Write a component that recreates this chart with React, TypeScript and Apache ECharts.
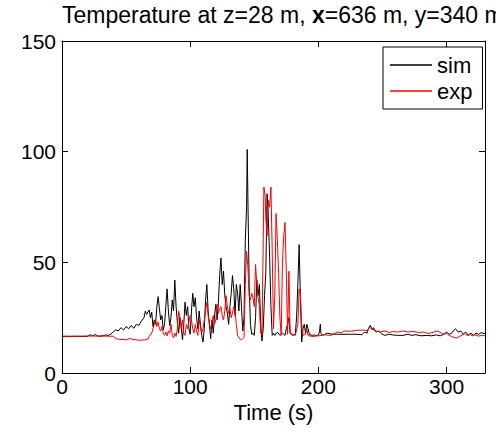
import React, { useEffect, useRef } from "react";
import * as echarts from "echarts";

const titleText = "Temperature at z=28 m, {b|x}=636 m, y=340 m";
const seriesNames = ["sim", "exp"];

const simTime = [
  0, 5, 10, 15, 20, 22, 24, 26, 28, 32, 34, 36, 38, 40, 42, 44, 46, 48, 50, 52, 54, 56, 58, 60,
  62, 64, 65, 66, 68, 69, 70, 71, 72, 73, 74, 75, 76, 77, 78, 79, 80, 81, 82, 83, 84, 85, 86, 87,
  88, 89, 90, 91, 92, 93, 94, 95, 96, 97, 98, 99, 100, 101, 102, 103, 104, 105, 106, 107, 108,
  109, 110, 111, 112, 113, 114, 115, 116, 117, 118, 119, 120, 121, 122, 123, 124, 125, 126, 127,
  128, 129, 130, 131, 132, 133, 134, 135, 136, 137, 138, 139, 140, 141, 142, 143, 144, 144.5, 145,
  146, 147, 148, 149, 150, 151, 152, 153, 154, 155, 156, 157, 158, 159, 160, 161, 162, 163, 164,
  165, 166, 168, 170, 172, 174, 175, 176, 177, 178, 180, 182, 183, 184, 185, 186, 187, 188, 189,
  190, 191, 192, 193, 195, 197, 199, 200, 201, 201.5, 202, 203, 205, 207, 210, 215, 220, 225, 230,
  234, 236, 238, 239, 240.5, 242, 243, 245, 247, 249, 252, 255, 258, 262, 266, 270, 273, 276, 280,
  285, 288, 292, 295, 298, 300, 302, 304, 306, 307, 309, 311, 313, 315, 317, 319, 321, 323, 325,
  327, 330,
];
const simTemp = [
  16.5, 16.4, 16.6, 16.5, 16.6, 17.3, 16.8, 17.4, 16.6, 16.8, 17.2, 17.0, 17.5, 18.6, 19.5, 19.0,
  20.5, 19.4, 21.0, 20.0, 21.5, 20.2, 22.0, 21.5, 23.5, 25.0, 28.0, 26.5, 28.5, 25.0, 27.5, 21.0,
  24.0, 22.0, 30.0, 34.5, 29.0, 24.0, 26.0, 19.5, 22.0, 30.0, 38.0, 28.0, 21.5, 25.0, 33.0, 28.0,
  42.0, 30.0, 23.0, 18.0, 25.0, 21.0, 15.0, 22.0, 32.0, 26.0, 30.0, 20.0, 17.5, 28.0, 36.0, 30.0,
  34.0, 25.0, 20.0, 28.0, 22.0, 17.0, 14.0, 20.0, 33.0, 40.0, 28.0, 22.0, 15.5, 24.0, 18.0, 26.0,
  31.0, 24.0, 32.0, 44.0, 52.0, 40.0, 46.0, 35.0, 30.0, 27.0, 22.0, 30.0, 36.0, 44.0, 38.0, 26.0,
  40.0, 36.0, 28.0, 40.0, 30.0, 19.0, 25.0, 60.0, 75.0, 101.0, 80.0, 40.0, 22.0, 17.5, 18.0, 17.0,
  25.0, 42.0, 35.0, 40.0, 22.0, 14.5, 20.0, 35.0, 45.0, 81.0, 70.0, 52.0, 30.0, 17.0, 18.0, 17.0,
  18.5, 17.0, 18.0, 17.0, 20.0, 22.0, 25.0, 18.0, 17.0, 17.5, 25.0, 40.0, 58.0, 34.0, 14.0, 20.0,
  22.0, 18.0, 22.0, 20.0, 17.5, 17.0, 17.2, 16.8, 17.0, 19.0, 22.0, 18.0, 17.0, 17.5, 18.0, 17.6,
  17.5, 17.5, 17.5, 17.5, 17.3, 18.5, 18.0, 20.0, 21.5, 19.5, 20.5, 18.5, 19.0, 17.8, 17.0, 17.5,
  17.2, 17.0, 17.0, 17.5, 17.0, 17.3, 16.8, 17.0, 16.8, 17.2, 16.8, 17.5, 18.5, 17.5, 18.0, 19.5,
  20.0, 18.5, 19.0, 17.5, 18.5, 17.0, 18.0, 17.0, 18.0, 17.5, 18.2, 17.8,
];

const expTime = [
  0, 10, 20, 30, 40, 42, 45, 50, 53, 55, 60, 65, 67, 68, 70, 71, 72, 73, 74, 75, 76, 77, 78, 79,
  80, 81, 82, 83, 84, 85, 86, 87, 88, 89, 90, 91, 92, 93, 94, 95, 96, 97, 98, 99, 100, 101, 102,
  103, 104, 105, 106, 107, 108, 109, 110, 111, 112, 113, 114, 115, 116, 117, 118, 119, 120, 121,
  122, 123, 124, 125, 126, 127, 128, 129, 130, 131, 132, 133, 134, 135, 136, 137, 138, 139, 140,
  141, 142, 143, 144, 145, 146, 147, 148, 149, 150, 151, 152, 153, 154, 155, 156, 157, 157.5,
  158.5, 159, 160, 161, 162, 163, 164, 165, 166, 167, 168, 169, 170, 171, 172, 173, 174, 175, 176,
  177, 178, 180, 182, 184, 185, 186, 187, 188, 190, 191, 192, 195, 200, 205, 210, 215, 218, 220,
  225, 230, 235, 238, 240, 242, 245, 248, 252, 255, 258, 262, 266, 270, 274, 278, 282, 286, 290,
  293, 296, 298, 300, 302, 304, 306, 308, 310, 312, 314, 316, 318, 320, 322, 325, 328, 330,
];
const expTemp = [
  16.7, 16.6, 16.7, 16.7, 16.6, 15.5, 15.2, 15.0, 15.6, 15.2, 14.8, 15.0, 15.3, 16.5, 18.0, 20.0,
  22.0, 24.0, 21.0, 23.0, 20.0, 19.0, 21.0, 18.0, 17.0, 18.5, 16.8, 19.0, 18.0, 22.0, 17.0, 16.0,
  18.0, 16.5, 20.0, 28.0, 25.0, 20.0, 24.0, 18.0, 17.0, 22.0, 20.0, 23.0, 26.0, 24.0, 20.0, 18.0,
  22.0, 19.0, 17.0, 24.0, 21.0, 18.0, 20.0, 24.0, 28.0, 32.0, 26.0, 22.0, 20.0, 23.0, 26.0, 22.0,
  24.0, 31.0, 27.0, 29.0, 30.0, 26.0, 24.0, 28.0, 35.0, 30.0, 27.0, 29.0, 25.0, 27.0, 30.0, 28.0,
  22.0, 17.0, 16.0, 15.2, 15.0, 15.5, 16.0, 40.0, 55.0, 48.0, 35.0, 33.0, 36.0, 34.0, 30.0, 49.0,
  40.0, 34.0, 30.0, 18.0, 17.0, 60.0, 84.0, 80.0, 70.0, 62.0, 78.0, 75.0, 84.0, 55.0, 20.0, 35.0,
  72.0, 60.0, 45.0, 25.0, 17.0, 50.0, 62.0, 68.0, 45.0, 17.5, 46.0, 18.0, 17.5, 17.0, 22.0, 38.0,
  35.0, 22.0, 17.0, 17.5, 20.0, 17.0, 16.5, 16.8, 17.2, 17.0, 18.5, 18.2, 19.0, 18.8, 19.3, 19.4,
  19.2, 20.5, 20.0, 19.0, 18.5, 19.0, 18.3, 18.7, 18.5, 19.0, 18.5, 18.8, 18.3, 18.5, 17.8, 18.5,
  19.0, 18.0, 17.5, 18.0, 17.0, 16.5, 16.0, 15.8, 16.5, 17.0, 18.0, 17.0, 17.5, 16.8, 17.2, 16.7,
  17.0, 16.8,
];

const FONT = "'Liberation Sans', Arial, Helvetica, sans-serif";

export default function App() {
  const ref = useRef<HTMLDivElement>(null);
  useEffect(() => {
    if (!ref.current) return;
    const chart = echarts.init(ref.current, null, { renderer: "svg" });
    const simData = simTime.map((t, i) => [t, simTemp[i]]);
    const expData = expTime.map((t, i) => [t, expTemp[i]]);
    const axisLine = { show: true, onZero: false, lineStyle: { color: "#000", width: 1 } };
    const tick = { show: true, inside: true, length: 6, lineStyle: { color: "#000", width: 1 } };
    const xLabelFmt = (v: number) => (v % 100 === 0 ? String(v) : "");
    chart.setOption({
      animation: false,
      backgroundColor: "#fff",
      title: {
        text: titleText,
        left: 62,
        top: 3,
        padding: 0,
        textStyle: {
          fontFamily: FONT,
          fontSize: 23,
          fontWeight: "normal",
          color: "#000",
          rich: { b: { fontFamily: FONT, fontSize: 23, fontWeight: "bold", color: "#000" } },
        },
      },
      grid: { left: 62, right: 11, top: 41, bottom: 63, show: false },
      legend: {
        data: seriesNames,
        orient: "vertical",
        left: 383,
        top: 47,
        icon: "rect",
        itemWidth: 42,
        itemHeight: 1.5,
        itemGap: 4,
        padding: [7, 10, 7, 7],
        backgroundColor: "#fff",
        borderColor: "#000",
        borderWidth: 1,
        textStyle: { fontFamily: FONT, fontSize: 22, color: "#000" },
      },
      xAxis: [
        {
          type: "value",
          min: 0,
          max: 330,
          interval: 100,
          position: "bottom",
          name: "Time (s)",
          nameLocation: "middle",
          nameGap: 28,
          nameTextStyle: { fontFamily: FONT, fontSize: 22, color: "#000" },
          axisLine,
          axisTick: tick,
          axisLabel: {
            fontFamily: FONT,
            fontSize: 21,
            color: "#000",
            margin: 3,
            showMaxLabel: false,
            formatter: xLabelFmt,
          },
          splitLine: { show: false },
        },
        {
          type: "value",
          min: 0,
          max: 330,
          interval: 100,
          position: "top",
          axisLine,
          axisTick: tick,
          axisLabel: { show: false },
          splitLine: { show: false },
        },
      ],
      yAxis: [
        {
          type: "value",
          min: 0,
          max: 150,
          interval: 50,
          position: "left",
          axisLine,
          axisTick: tick,
          axisLabel: { fontFamily: FONT, fontSize: 21, color: "#000", margin: 6 },
          splitLine: { show: false },
        },
        {
          type: "value",
          min: 0,
          max: 150,
          interval: 50,
          position: "right",
          axisLine,
          axisTick: tick,
          axisLabel: { show: false },
          splitLine: { show: false },
        },
      ],
      series: [
        {
          name: seriesNames[0],
          type: "line",
          data: simData,
          color: "#000000",
          symbol: "none",
          lineStyle: { color: "#000000", width: 1 },
          z: 2,
        },
        {
          name: seriesNames[1],
          type: "line",
          data: expData,
          color: "#ff0000",
          symbol: "none",
          lineStyle: { color: "#ff0000", width: 1 },
          z: 3,
        },
      ],
    });
    return () => chart.dispose();
  }, []);
  return (
    <div
      ref={ref}
      style={{ position: "fixed", left: 0, top: 0, width: 496, height: 436, background: "#fff" }}
    />
  );
}
